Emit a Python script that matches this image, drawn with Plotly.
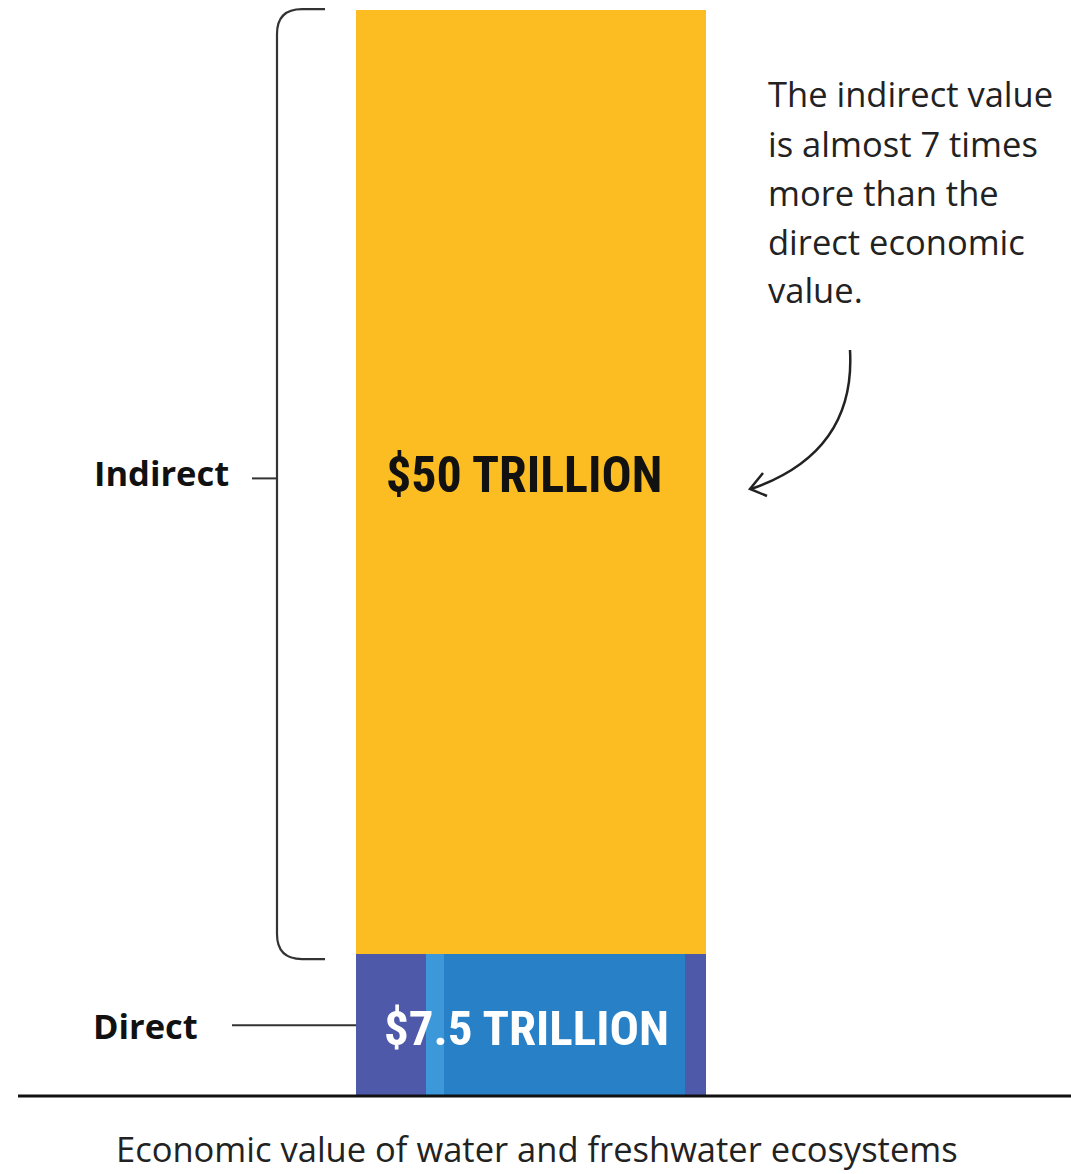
import plotly.graph_objects as go

# Economic value of water and freshwater ecosystems (trillion US$)
categories = ["Direct", "Indirect"]
values = [7.5, 50]
value_labels = ["$7.5 TRILLION", "$50 TRILLION"]

# Direct value broken into its component shares (fraction of the direct bar)
direct_parts = ["Part A", "Part B", "Part C", "Part D"]
direct_shares = [0.20, 0.05, 0.69, 0.06]
direct_colors = ["#4E59A9", "#3D98DA", "#2880C6", "#4E59A9"]

note_lines = ["The indirect value", "is almost 7 times", "more than the",
              "direct economic", "value."]
caption = "Economic value of water and freshwater ecosystems"

W, H = 1071, 1174
YELLOW = "#FBBD21"

fig = go.Figure()

# Direct bar: side-by-side component segments spanning one bar width
left = -0.5
for name, share, col in zip(direct_parts, direct_shares, direct_colors):
    fig.add_trace(go.Bar(
        x=[left + share / 2], y=[values[0]], base=[0], width=[share],
        marker=dict(color=col, line=dict(width=0)), name=name,
        hoverinfo="skip", showlegend=False))
    left += share

# Indirect bar stacked on top of the direct one
fig.add_trace(go.Bar(
    x=[0], y=[values[1]], base=[values[0]], width=[1],
    marker=dict(color=YELLOW, line=dict(width=0)), name=categories[1],
    hoverinfo="skip", showlegend=False))

# Axis mapping: bar from x=356..706 px, baseline at 1096 px, top at 10 px
px_per_unit_y = (1096 - 10) / sum(values)
y_lo = -(H - 1096) / px_per_unit_y
y_hi = sum(values) + 10 / px_per_unit_y
bar_px = 350
x_lo = -(531 / bar_px)
x_hi = (W - 531) / bar_px


def px(x):
    return x / W


def py(y):
    return 1 - y / H


fig.update_layout(
    width=W, height=H, autosize=False,
    margin=dict(l=0, r=0, t=0, b=0),
    paper_bgcolor="white", plot_bgcolor="white",
    barmode="overlay", bargap=0,
    xaxis=dict(range=[x_lo, x_hi], visible=False, fixedrange=True),
    yaxis=dict(range=[y_lo, y_hi], visible=False, fixedrange=True),
)

LINE = "#333333"
shapes = []

# Baseline
shapes.append(dict(type="line", xref="paper", yref="y",
                   x0=px(18), x1=1, y0=0, y1=0,
                   line=dict(color="#111111", width=3)))

# Bracket around the indirect value
top_v = sum(values) + 0.05
bot_v = values[0] - 0.25
r_y = 25 / px_per_unit_y
bx, bx_end, bx_r = px(277), px(325), px(302)
bracket = (f"M {bx_end} {top_v} L {bx_r} {top_v} "
           f"Q {bx} {top_v} {bx} {top_v - r_y} "
           f"L {bx} {bot_v + r_y} "
           f"Q {bx} {bot_v} {bx_r} {bot_v} L {bx_end} {bot_v}")
shapes.append(dict(type="path", xref="paper", yref="y", path=bracket,
                   line=dict(color=LINE, width=2.2)))
mid_v = (top_v + bot_v) / 2 + 0.3
shapes.append(dict(type="line", xref="paper", yref="y",
                   x0=px(252), x1=bx, y0=mid_v, y1=mid_v,
                   line=dict(color=LINE, width=2)))

# Leader line for the direct value
dir_mid = values[0] * 0.5
shapes.append(dict(type="line", xref="paper", yref="y",
                   x0=px(232), x1=px(356), y0=dir_mid, y1=dir_mid,
                   line=dict(color=LINE, width=2)))

# Curved arrow pointing at the indirect bar
arrow = (f"M {px(850)} {py(350)} C {px(854)} {py(420)}, "
         f"{px(820)} {py(465)}, {px(751)} {py(489)}")
shapes.append(dict(type="path", xref="paper", yref="paper", path=arrow,
                   line=dict(color="#222222", width=2.5)))
head = (f"M {px(763)} {py(473)} L {px(750)} {py(489)} L {px(767)} {py(496)}")
shapes.append(dict(type="path", xref="paper", yref="paper", path=head,
                   line=dict(color="#222222", width=2.5)))

fig.update_layout(shapes=shapes)

COND = "Roboto Condensed, DejaVu Sans, sans-serif"
BODY = "Open Sans, Noto Sans, sans-serif"
TXT = 34.5

annotations = [
    # Values inside the bars
    dict(x=-0.02, y=values[0] + values[1] * 0.508, xref="x", yref="y",
         text=f"<b>{value_labels[1]}</b>", showarrow=False,
         xanchor="center", yanchor="middle",
         font=dict(family=COND, size=50, color="#111111")),
    dict(x=-0.014, y=values[0] * 0.48, xref="x", yref="y",
         text=f"<b>{value_labels[0]}</b>", showarrow=False,
         xanchor="center", yanchor="middle",
         font=dict(family=COND, size=49, color="white")),
    # Category labels
    dict(x=px(231), y=mid_v + 0.3, xref="paper", yref="y", xanchor="right",
         yanchor="middle", text=f"<b>{categories[1]}</b>", showarrow=False,
         font=dict(family=BODY, size=TXT, color="#111111")),
    dict(x=px(200), y=dir_mid, xref="paper", yref="y", xanchor="right",
         yanchor="middle", text=f"<b>{categories[0]}</b>", showarrow=False,
         font=dict(family=BODY, size=TXT, color="#111111")),
    # Caption under the baseline
    dict(x=px(537), y=py(1148), xref="paper", yref="paper",
         xanchor="center", yanchor="middle",
         text=caption, showarrow=False,
         font=dict(family=BODY, size=TXT, color="#222222")),
]
for i, line in enumerate(note_lines):
    annotations.append(dict(
        x=px(766), y=py(94 + 49 * i), xref="paper", yref="paper",
        xanchor="left", yanchor="middle", text=line, showarrow=False,
        font=dict(family=BODY, size=TXT, color="#222222")))

fig.update_layout(annotations=annotations)

fig.write_html("out.html", config={"displayModeBar": False})
